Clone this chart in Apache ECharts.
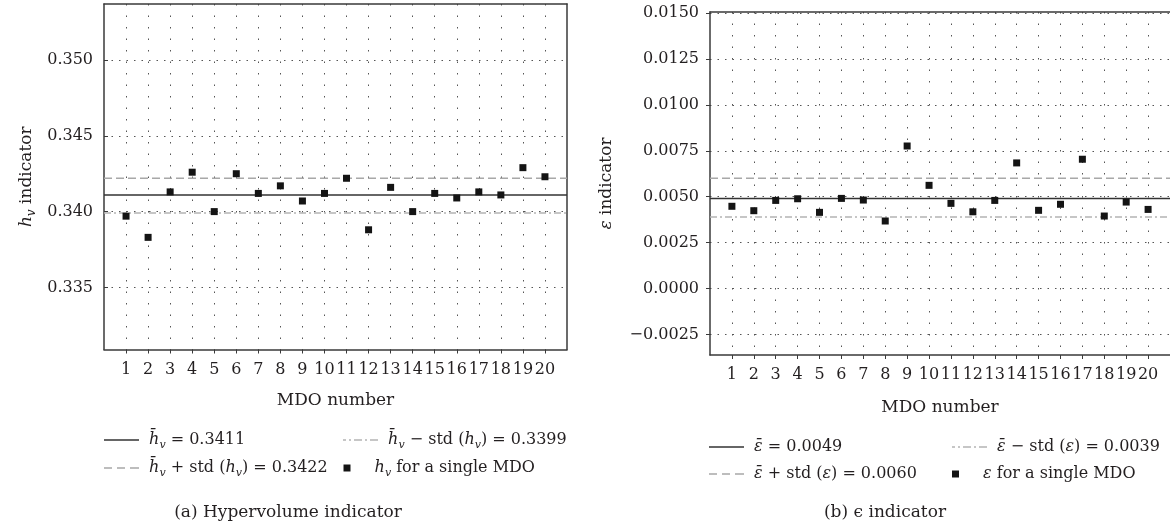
<!DOCTYPE html>
<html><head><meta charset="utf-8">
<script src="https://cdn.jsdelivr.net/npm/echarts@6/dist/echarts.min.js"></script>
<style>html,body{margin:0;padding:0;background:#fff;overflow:hidden}#c{width:1170px;height:529px}</style>
</head><body><div id="c"></div>
<script>
// ---------- data ----------
const mdoNumbers = [1,2,3,4,5,6,7,8,9,10,11,12,13,14,15,16,17,18,19,20];
const hvValues = [0.3397,0.3383,0.3413,0.3426,0.3400,0.3425,0.3412,0.3417,0.3407,0.3412,
                  0.3422,0.3388,0.3416,0.3400,0.3412,0.3409,0.3413,0.3411,0.3429,0.3423];
const hvMean = 0.3411, hvPlusStd = 0.3422, hvMinusStd = 0.3399;
const epsValues = [0.00448,0.00424,0.00480,0.00489,0.00415,0.00491,0.00482,0.00368,0.00776,0.00562,
                   0.00464,0.00418,0.00480,0.00684,0.00426,0.00459,0.00704,0.00395,0.00471,0.00431];
const epsMean = 0.0049, epsPlusStd = 0.0060, epsMinusStd = 0.0039;
const hvTicks = [0.335, 0.340, 0.345, 0.350];
const epsTicks = [-0.0025, 0.0000, 0.0025, 0.0050, 0.0075, 0.0100, 0.0125, 0.0150];
const xRange = [0, 21];
const hvRange = [0.3309, 0.3537];
const epsRange = [-0.00361, 0.01505];

// ---------- styles ----------
const FONT = '"DejaVu Serif", "Liberation Serif", serif';
const TXT = '#231f20';
const FRAME = '#3a3a3a';
const MARK = '#141414';
const rich = {
  n: {fontFamily: FONT, fontSize: 16, color: TXT, lineHeight: 22},
  i: {fontFamily: FONT, fontSize: 16, fontStyle: 'italic', color: TXT, lineHeight: 22},
  s: {fontFamily: FONT, fontSize: 11, fontStyle: 'italic', color: TXT, lineHeight: 12, verticalAlign: 'bottom'}
};
const nameRich = {
  n: {fontFamily: FONT, fontSize: 17, color: TXT, lineHeight: 22},
  i: {fontFamily: FONT, fontSize: 17, fontStyle: 'italic', color: TXT, lineHeight: 22},
  s: {fontFamily: FONT, fontSize: 12, fontStyle: 'italic', color: TXT, lineHeight: 12, verticalAlign: 'bottom'}
};
const f4 = v => v.toFixed(4);

const meanStyle = {color: '#333333', width: 1.5, type: 'solid'};
const plusStyle = {color: '#a8a8a8', width: 1.5, type: [8, 4]};
const minusStyle = {color: '#b4b4b4', width: 1.5, type: [7, 3, 2, 3]};
const ICON_SOLID = 'path://M0,0h35v1.5h-35z';
const ICON_DASH = 'path://M0,0h8v1.5h-8zM13,0h8v1.5h-8zM26,0h9v1.5h-9z';
const ICON_DASHDOT = 'path://M0,0h3v1.5h-3zM6,0h2v1.5h-2zM11,0h8v1.5h-8zM22,0h2v1.5h-2zM27,0h8v1.5h-8z';
const ICON_SQUARE = 'path://M0,0h7v7h-7z';

const names = {
  hvMean: '{i|h\u0304}{s|v}{n| = ' + f4(hvMean) + '}',
  hvMinus: '{i|h\u0304}{s|v}{n| \u2212 std (}{i|h}{s|v}{n|) = ' + f4(hvMinusStd) + '}',
  hvPlus: '{i|h\u0304}{s|v}{n| + std (}{i|h}{s|v}{n|) = ' + f4(hvPlusStd) + '}',
  hvPts: '{i|h}{s|v}{n| for a single MDO}',
  epsMean: '{i|\u03b5\u0304}{n| = ' + f4(epsMean) + '}',
  epsMinus: '{i|\u03b5\u0304}{n| \u2212 std (}{i|\u03b5}{n|) = ' + f4(epsMinusStd) + '}',
  epsPlus: '{i|\u03b5\u0304}{n| + std (}{i|\u03b5}{n|) = ' + f4(epsPlusStd) + '}',
  epsPts: '{i|\u03b5}{n| for a single MDO}'
};

function xAxes(grid, nameGap) {
  return [{
    gridIndex: grid, type: 'value', min: xRange[0], max: xRange[1], position: 'bottom',
    name: 'MDO number', nameLocation: 'middle', nameGap: nameGap,
    nameTextStyle: {fontFamily: FONT, fontSize: 17, color: TXT},
    axisLine: {show: true, onZero: false, lineStyle: {color: FRAME, width: 1.5}},
    axisTick: {show: true, inside: false, length: 4, customValues: mdoNumbers, lineStyle: {color: FRAME, width: 1}},
    axisLabel: {customValues: mdoNumbers, margin: 12, fontFamily: FONT, fontSize: 16, color: TXT},
    splitLine: {show: true, lineStyle: {color: '#555', width: 1, type: [1.5, 10]}}
  }, {
    gridIndex: grid, type: 'value', min: xRange[0], max: xRange[1], position: 'top',
    axisLine: {show: true, onZero: false, lineStyle: {color: FRAME, width: 1.5}},
    axisTick: {show: false}, axisLabel: {show: false}, splitLine: {show: false}
  }];
}
function yAxes(grid, range, ticks, digits, name, nameGap, tickInside, rightFrame) {
  return [{
    gridIndex: grid, type: 'value', min: range[0], max: range[1], position: 'left',
    name: name, nameLocation: 'middle', nameGap: nameGap, nameRotate: 90,
    nameTextStyle: {fontFamily: FONT, fontSize: 17, color: TXT, rich: nameRich},
    axisLine: {show: true, onZero: false, lineStyle: {color: FRAME, width: 1.5}},
    axisTick: {show: true, inside: tickInside, length: 4, customValues: ticks, lineStyle: {color: FRAME, width: 1}},
    axisLabel: {customValues: ticks, margin: 11, fontFamily: FONT, fontSize: 16, color: TXT,
      formatter: v => (v < -1e-12 ? '\u2212' : '') + Math.abs(v).toFixed(digits)},
    splitLine: {show: true, lineStyle: {color: '#555', width: 1, type: [1.5, 6]}}
  }, {
    gridIndex: grid, type: 'value', min: range[0], max: range[1], position: 'right',
    axisLine: {show: rightFrame, onZero: false, lineStyle: {color: FRAME, width: 1.5}},
    axisTick: {show: false}, axisLabel: {show: false}, splitLine: {show: false}
  }];
}

// horizontal reference line spanning the whole x range
function refSeries(name, xi, yi, value, style) {
  return {
    name: name, type: 'line', xAxisIndex: xi, yAxisIndex: yi, color: style.color,
    data: xRange.map(x => [x, value]), symbol: 'none', showSymbol: false,
    lineStyle: style, silent: true, z: 3, clip: true
  };
}
function ptsSeries(name, xi, yi, values) {
  return {
    name: name, type: 'scatter', xAxisIndex: xi, yAxisIndex: yi, symbol: 'rect', symbolSize: 7,
    color: MARK, itemStyle: {color: MARK, opacity: 1}, silent: true, z: 5,
    data: mdoNumbers.map((x, k) => [x, values[k]])
  };
}
function legend(name, left, top, icon, color) {
  return {
    data: [{name: name, icon: icon, itemStyle: {color: color, borderWidth: 0, opacity: 1}}],
    left: left, top: top, padding: 0, itemGap: 0,
    itemWidth: 35, itemHeight: icon === ICON_SQUARE ? 7 : 14, selectedMode: false,
    formatter: n => '{n| }' + names[n],
    textStyle: {fontFamily: FONT, fontSize: 16, color: TXT, lineHeight: 22, rich: rich}
  };
}

const option = {
  animation: false,
  backgroundColor: '#fff',
  grid: [
    {left: 104, top: 4, width: 463, height: 345.5, containLabel: false},
    {left: 710, top: 12, width: 463, height: 343, containLabel: false}
  ],
  xAxis: [...xAxes(0, 43), ...xAxes(1, 44)],
  yAxis: [
    ...yAxes(0, hvRange, hvTicks, 3, '{i|h}{s|v}{n| indicator}', 66, true, true),
    ...yAxes(1, epsRange, epsTicks, 4, '{i|\u03b5}{n| indicator}', 92, false, false)
  ],
  legend: [
    legend('hvMean', 104, 429, ICON_SOLID, meanStyle.color),
    legend('hvPlus', 104, 457, ICON_DASH, plusStyle.color),
    legend('hvMinus', 343, 429, ICON_DASHDOT, minusStyle.color),
    legend('hvPts', 343.5, 457, ICON_SQUARE, MARK),
    legend('epsMean', 709, 436, ICON_SOLID, meanStyle.color),
    legend('epsPlus', 709, 463, ICON_DASH, plusStyle.color),
    legend('epsMinus', 952, 436, ICON_DASHDOT, minusStyle.color),
    legend('epsPts', 952, 463, ICON_SQUARE, MARK)
  ],
  series: [
    refSeries('hvMean', 0, 0, hvMean, meanStyle),
    refSeries('hvPlus', 0, 0, hvPlusStd, plusStyle),
    refSeries('hvMinus', 0, 0, hvMinusStd, minusStyle),
    ptsSeries('hvPts', 0, 0, hvValues),
    refSeries('epsMean', 2, 2, epsMean, meanStyle),
    refSeries('epsPlus', 2, 2, epsPlusStd, plusStyle),
    refSeries('epsMinus', 2, 2, epsMinusStd, minusStyle),
    ptsSeries('epsPts', 2, 2, epsValues)
  ],
  graphic: [
    {type: 'text', x: 288, y: 513, style: {text: '(a) Hypervolume indicator', align: 'center', verticalAlign: 'middle',
      font: '17px ' + FONT, fill: TXT}},
    {type: 'text', x: 885, y: 513, style: {text: '(b) \u03f5 indicator', align: 'center', verticalAlign: 'middle',
      font: '17px ' + FONT, fill: TXT}}
  ]
};
const chart = echarts.init(document.getElementById('c'), null, {renderer: 'canvas'});
chart.setOption(option);
</script>
</body></html>
